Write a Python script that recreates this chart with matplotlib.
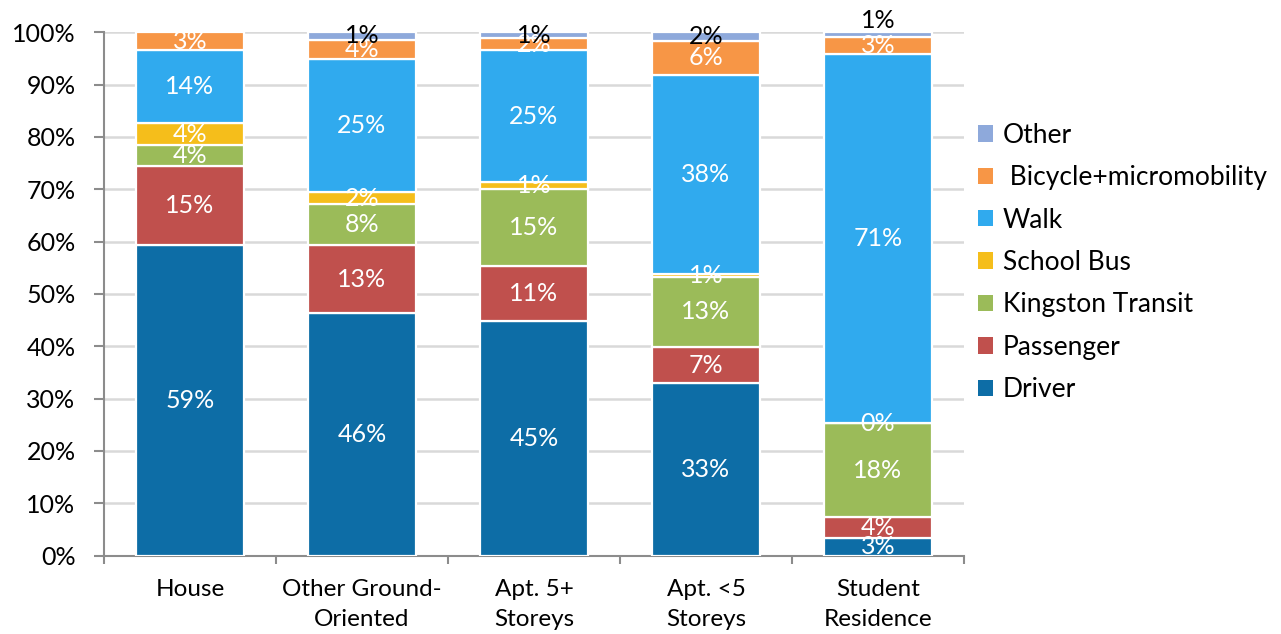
import matplotlib
matplotlib.use("Agg")
import matplotlib.pyplot as plt
import numpy as np
from matplotlib.patches import Patch

# Mode share (%) by dwelling type
categories = ["House", "Other Ground-\nOriented", "Apt. 5+\nStoreys", "Apt. <5\nStoreys", "Student\nResidence"]
driver = [59.3, 46.3, 44.8, 32.9, 3.4]
passenger = [15.2, 13.1, 10.6, 7.0, 3.9]
kingston_transit = [3.9, 7.7, 14.6, 13.4, 18.0]
school_bus = [4.2, 2.4, 1.4, 0.6, 0.0]
walk = [14.0, 25.4, 25.2, 38.0, 70.6]
bicycle = [3.4, 3.7, 2.3, 6.4, 3.2]
other = [np.nan, 1.4, 1.1, 1.7, 0.9]

series_names = ["Driver", "Passenger", "Kingston Transit", "School Bus", "Walk",
                " Bicycle+micromobility", "Other"]
series_values = [driver, passenger, kingston_transit, school_bus, walk, bicycle, other]
series_colors = ["#0D6DA6", "#C0504D", "#9BBB59", "#F5BE1B", "#30AAEE", "#F79646", "#8EA9DB"]
label_colors = ["white", "white", "white", "white", "white", "white", "black"]

FONT = "Lato"
plt.rcParams["font.family"] = [FONT, "DejaVu Sans"]

fig = plt.figure(figsize=(12.81, 6.34), dpi=100)
ax = fig.add_axes([0.0812, 0.1238, 0.6713, 0.8252])

x = np.arange(len(categories))
bar_w = 0.63
bottom = np.zeros(len(categories))
for name, vals, col, lcol in zip(series_names, series_values, series_colors, label_colors):
    v = np.array(vals, dtype=float)
    present = ~np.isnan(v)
    ax.bar(x[present], v[present], bar_w, bottom=bottom[present], color=col,
           edgecolor="white", linewidth=1.6, zorder=3)
    for i in np.where(present)[0]:
        yc = bottom[i] + v[i] / 2
        dy = 0
        if name == "Other" and i == len(categories) - 1:
            dy = 10
        ax.annotate(f"{v[i]:.0f}%", (x[i], yc), xytext=(0, dy), textcoords="offset points",
                    ha="center", va="center", color=lcol, fontsize=18, zorder=5)
    bottom[present] += v[present]

ax.set_xlim(-0.5, len(categories) - 0.5)
ax.set_ylim(0, 100)
ax.set_yticks(np.arange(0, 101, 10))
ax.set_yticklabels([f"{t}%" for t in range(0, 101, 10)], fontsize=18)
ax.set_xticks(x)
ax.set_xticklabels(categories, fontsize=17.5, linespacing=1.5)
ax.set_xticks(np.arange(-0.5, len(categories), 1.0), minor=True)
ax.tick_params(axis="x", which="major", length=0, pad=17)
ax.tick_params(axis="x", which="minor", length=6, width=1.5, color="#8C8C8C")
ax.tick_params(axis="y", length=7.5, width=1.5, color="#8C8C8C", pad=13)

ax.grid(axis="y", color="#D9D9D9", linewidth=1.8, zorder=0)
ax.set_axisbelow(True)
for s in ["top", "right"]:
    ax.spines[s].set_visible(False)
for s in ["left", "bottom"]:
    ax.spines[s].set_color("#8C8C8C")
    ax.spines[s].set_linewidth(1.5)

handles = [Patch(facecolor=c, edgecolor="none") for c in series_colors][::-1]
labels = series_names[::-1]
fig.legend(handles, labels, loc="center left", bbox_to_anchor=(0.7635, 0.586),
           frameon=False, fontsize=19, handlelength=0.58, handleheight=0.58,
           handletextpad=0.35, labelspacing=0.66, borderpad=0, borderaxespad=0)

fig.savefig("out.png", dpi=100)
